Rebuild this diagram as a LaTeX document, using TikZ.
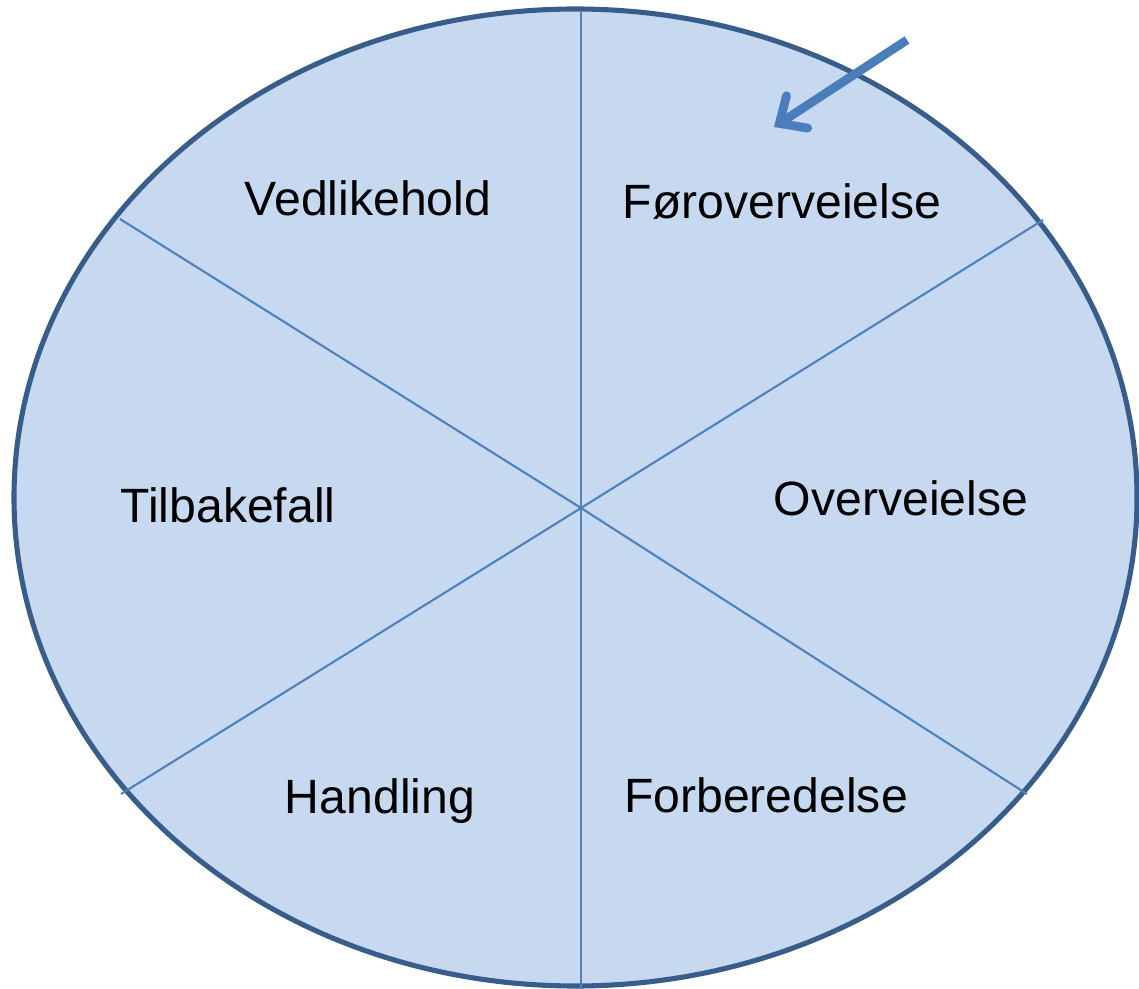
\documentclass[tikz,border=0pt]{standalone}
\usepackage{fontspec}
\setmainfont{Liberation Sans}
\usetikzlibrary{arrows.meta}
\definecolor{wheelfill}{HTML}{C6D9F1}
\definecolor{wheeledge}{HTML}{385D8A}
\definecolor{spokeblue}{HTML}{4F81BD}
\definecolor{arrowblue}{HTML}{4A7EBB}
\begin{document}
\begin{tikzpicture}[x=0.02cm, y=-0.02cm, >={Straight Barb[length=12pt, width=22pt, line cap=round]}]
  \tikzset{
    stage/.style={font=\fontsize{27.4}{33}\selectfont, anchor=base, inner sep=0pt},
    spoke/.style={draw=spokeblue, line width=1.2pt}
  }
  \useasboundingbox (0,0) rectangle (1139,989);

  % The wheel
  \filldraw[fill=wheelfill, draw=wheeledge, line width=2.9pt]
    (575.5,497.5) ellipse [x radius=561.5, y radius=488.5];

  % Spokes
  \coordinate (hub) at (581,508);
  \coordinate (top) at (581,12);
  \coordinate (bottom) at (581,992);
  \coordinate (ul) at (120,219);
  \coordinate (ur) at (1043,220);
  \coordinate (ll) at (121,794);
  \coordinate (lr) at (1027,794);

  \draw[spoke] (top) -- (bottom);
  \draw[spoke] (ul) -- (hub) -- (lr);
  \draw[spoke] (ll) -- (hub) -- (ur);

  % Stages
  \node[stage] (vedlikehold) at (368,216) {Vedlikehold};
  \node[stage] (foroverveielse) at (782,219) {Føroverveielse};
  \node[stage] (tilbakefall) at (228,522) {Tilbakefall};
  \node[stage] (overveielse) at (901,516) {Overveielse};
  \node[stage] (handling) at (380,813) {Handling};
  \node[stage] (forberedelse) at (766,812) {Forberedelse};

  % Entry arrow
  \coordinate (start) at (907,40);
  \coordinate (entry) at (774,127);
  \draw[->, draw=arrowblue, line width=5pt] (start) -- (entry);
\end{tikzpicture}
\end{document}
